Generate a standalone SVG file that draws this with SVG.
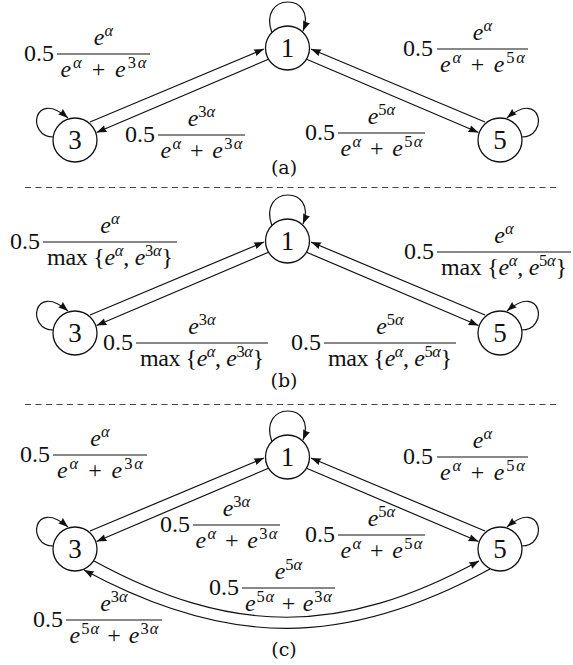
<svg xmlns="http://www.w3.org/2000/svg" width="573" height="665" viewBox="0 0 573 665">
<style>
.m{font-family:"Liberation Serif","Times New Roman",serif;font-size:24px;fill:#111}
.i{font-style:italic}
.s{font-size:16.5px}
.cap{font-family:"DejaVu Serif",serif;font-size:19px;fill:#111;text-anchor:middle}
.node circle{fill:#fff;stroke:#111;stroke-width:1.3}
.node text{font-family:"Liberation Serif","Times New Roman",serif;font-size:27px;text-anchor:middle;fill:#111}
.bar{stroke:#111;stroke-width:1}
.e path{fill:none;stroke:#111;stroke-width:1.2;marker-end:url(#arr)}
.dash{stroke:#444;stroke-width:1;stroke-dasharray:6 4.5}
.mid{text-anchor:middle}
.end{text-anchor:end}
</style>
<defs>
<marker id="arr" viewBox="0 0 10 8" refX="10" refY="4" markerWidth="10" markerHeight="8" markerUnits="userSpaceOnUse" orient="auto">
<path d="M0,0.4 L10,4 L0,7.6 Q2,4 0,0.4 Z" fill="#111"/>
</marker>
</defs>
<rect width="573" height="665" fill="#fff"/>

<!-- connectors -->
<g id="connectors">
<g id="edges-a" class="e">
<path d="M90,122 L264,49"/>
<path d="M269,59 L96.5,132.5"/>
<path d="M485,122 L311,49"/>
<path d="M306,59 L478.5,132.5"/>
<path d="M272,33 C257,-8 318,-8 303,31"/>
<path d="M53.5,137 C26,137 33,88 68,118"/>
<path d="M521.5,137 C549,137 542,88 507,118"/>
</g>
<g id="edges-b" class="e" transform="translate(0,193)">
<path d="M90,122 L264,49"/>
<path d="M269,59 L96.5,132.5"/>
<path d="M485,122 L311,49"/>
<path d="M306,59 L478.5,132.5"/>
<path d="M272,33 C257,-8 318,-8 303,31"/>
<path d="M53.5,137 C26,137 33,88 68,118"/>
<path d="M521.5,137 C549,137 542,88 507,118"/>
</g>
<g id="edges-c" class="e" transform="translate(0,409)">
<path d="M90,122 L264,49"/>
<path d="M269,59 L96.5,132.5"/>
<path d="M485,122 L311,49"/>
<path d="M306,59 L478.5,132.5"/>
<path d="M272,33 C257,-8 318,-8 303,31"/>
<path d="M53.5,137 C26,137 33,88 68,118"/>
<path d="M521.5,137 C549,137 542,88 507,118"/>
</g>
<g id="edges-c-curves" class="e">
<path d="M94,561 C232,636 341,636 479,561"/>
<path d="M490,569 C345,648 228,648 84,570"/>
</g>
</g>

<!-- separators -->
<line class="dash" x1="25" y1="187.5" x2="558" y2="187.5"/>
<line class="dash" x1="25" y1="404.5" x2="558" y2="404.5"/>

<!-- nodes -->
<g id="a-n1" class="node"><circle cx="287.5" cy="48" r="22"/><text x="287.5" y="57">1</text></g>
<g id="a-n3" class="node"><circle cx="75" cy="140" r="22"/><text x="75" y="149">3</text></g>
<g id="a-n5" class="node"><circle cx="500" cy="140" r="22"/><text x="500" y="149">5</text></g>
<g id="b-n1" class="node"><circle cx="287.5" cy="241" r="22"/><text x="287.5" y="250">1</text></g>
<g id="b-n3" class="node"><circle cx="75" cy="333" r="22"/><text x="75" y="342">3</text></g>
<g id="b-n5" class="node"><circle cx="500" cy="333" r="22"/><text x="500" y="342">5</text></g>
<g id="c-n1" class="node"><circle cx="287.5" cy="457" r="22"/><text x="287.5" y="466">1</text></g>
<g id="c-n3" class="node"><circle cx="75" cy="549" r="22"/><text x="75" y="558">3</text></g>
<g id="c-n5" class="node"><circle cx="500" cy="549" r="22"/><text x="500" y="558">5</text></g>

<!-- labels panel a -->
<g id="lab-a1">
<text class="m end" x="54" y="61">0.5</text>
<line class="bar" x1="57" y1="54" x2="150" y2="54"/>
<text class="m mid" x="103.5" y="45"><tspan class="i">e</tspan><tspan class="s i" dy="-9">α</tspan></text>
<text class="m mid" x="103.5" y="77" textLength="86"><tspan class="i">e</tspan><tspan class="s i" dy="-9">α</tspan><tspan dy="9"> + </tspan><tspan class="i">e</tspan><tspan class="s" dy="-9">3</tspan><tspan class="s i">α</tspan></text>
</g>
<g id="lab-a2">
<text class="m end" x="155" y="142">0.5</text>
<line class="bar" x1="158" y1="135" x2="245" y2="135"/>
<text class="m mid" x="201.5" y="126"><tspan class="i">e</tspan><tspan class="s" dy="-9">3</tspan><tspan class="s i">α</tspan></text>
<text class="m mid" x="201.5" y="158" textLength="82"><tspan class="i">e</tspan><tspan class="s i" dy="-9">α</tspan><tspan dy="9"> + </tspan><tspan class="i">e</tspan><tspan class="s" dy="-9">3</tspan><tspan class="s i">α</tspan></text>
</g>
<g id="lab-a3">
<text class="m end" x="433" y="56">0.5</text>
<line class="bar" x1="437" y1="49" x2="528" y2="49"/>
<text class="m mid" x="482.5" y="40"><tspan class="i">e</tspan><tspan class="s i" dy="-9">α</tspan></text>
<text class="m mid" x="482.5" y="72" textLength="85"><tspan class="i">e</tspan><tspan class="s i" dy="-9">α</tspan><tspan dy="9"> + </tspan><tspan class="i">e</tspan><tspan class="s" dy="-9">5</tspan><tspan class="s i">α</tspan></text>
</g>
<g id="lab-a4">
<text class="m end" x="335" y="140">0.5</text>
<line class="bar" x1="338" y1="133" x2="425" y2="133"/>
<text class="m mid" x="381.5" y="124"><tspan class="i">e</tspan><tspan class="s" dy="-9">5</tspan><tspan class="s i">α</tspan></text>
<text class="m mid" x="381.5" y="156" textLength="82"><tspan class="i">e</tspan><tspan class="s i" dy="-9">α</tspan><tspan dy="9"> + </tspan><tspan class="i">e</tspan><tspan class="s" dy="-9">5</tspan><tspan class="s i">α</tspan></text>
</g>
<text class="cap" x="284" y="174">(a)</text>

<!-- labels panel b -->
<g id="lab-b1">
<text class="m end" x="40" y="249">0.5</text>
<line class="bar" x1="43" y1="242" x2="177" y2="242"/>
<text class="m mid" x="110" y="233"><tspan class="i">e</tspan><tspan class="s i" dy="-9">α</tspan></text>
<text class="m mid" x="110" y="265" textLength="126">max {<tspan class="i">e</tspan><tspan class="s i" dy="-9">α</tspan><tspan dy="9">, </tspan><tspan class="i">e</tspan><tspan class="s" dy="-9">3</tspan><tspan class="s i">α</tspan><tspan dy="9">}</tspan></text>
</g>
<g id="lab-b2">
<text class="m end" x="133" y="350">0.5</text>
<line class="bar" x1="136" y1="343" x2="268" y2="343"/>
<text class="m mid" x="202" y="334"><tspan class="i">e</tspan><tspan class="s" dy="-9">3</tspan><tspan class="s i">α</tspan></text>
<text class="m mid" x="202" y="366" textLength="124">max {<tspan class="i">e</tspan><tspan class="s i" dy="-9">α</tspan><tspan dy="9">, </tspan><tspan class="i">e</tspan><tspan class="s" dy="-9">3</tspan><tspan class="s i">α</tspan><tspan dy="9">}</tspan></text>
</g>
<g id="lab-b3">
<text class="m end" x="434" y="259">0.5</text>
<line class="bar" x1="437" y1="252" x2="571" y2="252"/>
<text class="m mid" x="504" y="243"><tspan class="i">e</tspan><tspan class="s i" dy="-9">α</tspan></text>
<text class="m mid" x="504" y="275" textLength="126">max {<tspan class="i">e</tspan><tspan class="s i" dy="-9">α</tspan><tspan dy="9">, </tspan><tspan class="i">e</tspan><tspan class="s" dy="-9">5</tspan><tspan class="s i">α</tspan><tspan dy="9">}</tspan></text>
</g>
<g id="lab-b4">
<text class="m end" x="321" y="350">0.5</text>
<line class="bar" x1="324" y1="343" x2="456" y2="343"/>
<text class="m mid" x="390" y="334"><tspan class="i">e</tspan><tspan class="s" dy="-9">5</tspan><tspan class="s i">α</tspan></text>
<text class="m mid" x="390" y="366" textLength="124">max {<tspan class="i">e</tspan><tspan class="s i" dy="-9">α</tspan><tspan dy="9">, </tspan><tspan class="i">e</tspan><tspan class="s" dy="-9">5</tspan><tspan class="s i">α</tspan><tspan dy="9">}</tspan></text>
</g>
<text class="cap" x="284" y="387">(b)</text>

<!-- labels panel c -->
<g id="lab-c1">
<text class="m end" x="50" y="462">0.5</text>
<line class="bar" x1="53" y1="455" x2="147" y2="455"/>
<text class="m mid" x="100" y="446"><tspan class="i">e</tspan><tspan class="s i" dy="-9">α</tspan></text>
<text class="m mid" x="100" y="478" textLength="86"><tspan class="i">e</tspan><tspan class="s i" dy="-9">α</tspan><tspan dy="9"> + </tspan><tspan class="i">e</tspan><tspan class="s" dy="-9">3</tspan><tspan class="s i">α</tspan></text>
</g>
<g id="lab-c2">
<text class="m end" x="190" y="532">0.5</text>
<line class="bar" x1="193" y1="525" x2="280" y2="525"/>
<text class="m mid" x="236.5" y="516"><tspan class="i">e</tspan><tspan class="s" dy="-9">3</tspan><tspan class="s i">α</tspan></text>
<text class="m mid" x="236.5" y="548" textLength="82"><tspan class="i">e</tspan><tspan class="s i" dy="-9">α</tspan><tspan dy="9"> + </tspan><tspan class="i">e</tspan><tspan class="s" dy="-9">3</tspan><tspan class="s i">α</tspan></text>
</g>
<g id="lab-c3">
<text class="m end" x="433" y="464">0.5</text>
<line class="bar" x1="437" y1="457" x2="528" y2="457"/>
<text class="m mid" x="482.5" y="448"><tspan class="i">e</tspan><tspan class="s i" dy="-9">α</tspan></text>
<text class="m mid" x="482.5" y="480" textLength="85"><tspan class="i">e</tspan><tspan class="s i" dy="-9">α</tspan><tspan dy="9"> + </tspan><tspan class="i">e</tspan><tspan class="s" dy="-9">5</tspan><tspan class="s i">α</tspan></text>
</g>
<g id="lab-c4">
<text class="m end" x="335" y="542">0.5</text>
<line class="bar" x1="338" y1="535" x2="425" y2="535"/>
<text class="m mid" x="381.5" y="526"><tspan class="i">e</tspan><tspan class="s" dy="-9">5</tspan><tspan class="s i">α</tspan></text>
<text class="m mid" x="381.5" y="558" textLength="82"><tspan class="i">e</tspan><tspan class="s i" dy="-9">α</tspan><tspan dy="9"> + </tspan><tspan class="i">e</tspan><tspan class="s" dy="-9">5</tspan><tspan class="s i">α</tspan></text>
</g>
<g id="lab-c5">
<text class="m end" x="239" y="595">0.5</text>
<line class="bar" x1="242" y1="588" x2="335" y2="588"/>
<text class="m mid" x="288.5" y="579"><tspan class="i">e</tspan><tspan class="s" dy="-9">5</tspan><tspan class="s i">α</tspan></text>
<text class="m mid" x="288.5" y="611" textLength="87"><tspan class="i">e</tspan><tspan class="s" dy="-9">5</tspan><tspan class="s i">α</tspan><tspan dy="9"> + </tspan><tspan class="i">e</tspan><tspan class="s" dy="-9">3</tspan><tspan class="s i">α</tspan></text>
</g>
<g id="lab-c6">
<text class="m end" x="63" y="627">0.5</text>
<line class="bar" x1="66" y1="620" x2="162" y2="620"/>
<text class="m mid" x="114" y="611"><tspan class="i">e</tspan><tspan class="s" dy="-9">3</tspan><tspan class="s i">α</tspan></text>
<text class="m mid" x="114" y="643" textLength="89"><tspan class="i">e</tspan><tspan class="s" dy="-9">5</tspan><tspan class="s i">α</tspan><tspan dy="9"> + </tspan><tspan class="i">e</tspan><tspan class="s" dy="-9">3</tspan><tspan class="s i">α</tspan></text>
</g>
<text class="cap" x="284" y="656">(c)</text>
</svg>
